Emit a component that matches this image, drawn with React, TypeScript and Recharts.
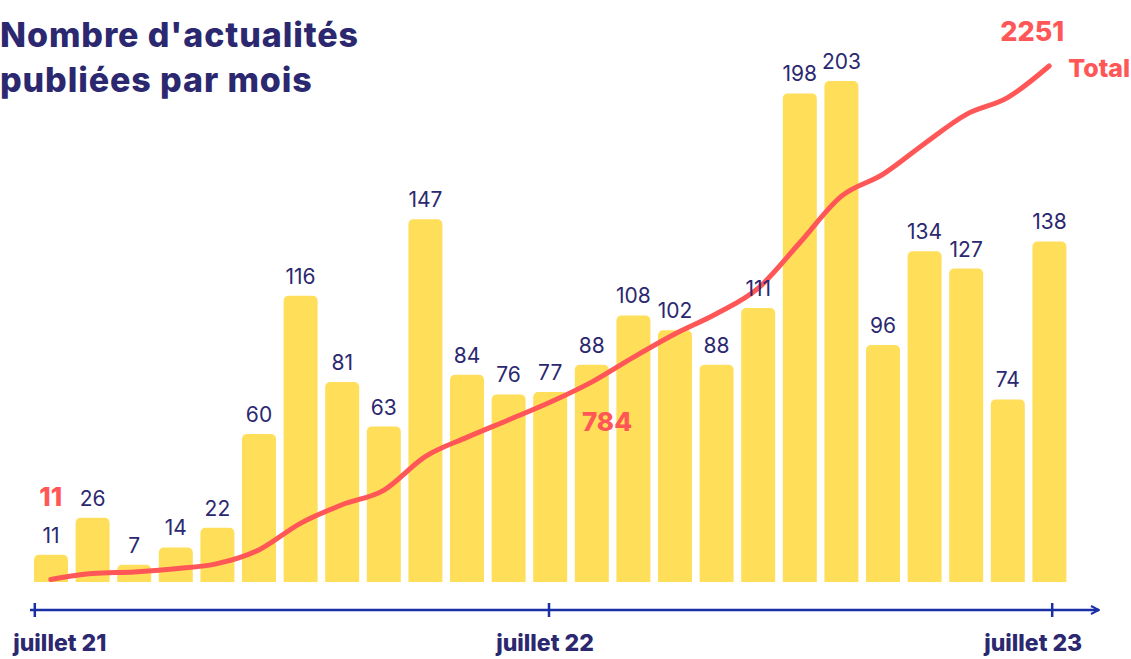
import React from "react";
import { ComposedChart, Bar, Line, XAxis, YAxis, LabelList } from "recharts";

const months = [
  "2021-07", "2021-08", "2021-09", "2021-10", "2021-11", "2021-12",
  "2022-01", "2022-02", "2022-03", "2022-04", "2022-05", "2022-06",
  "2022-07", "2022-08", "2022-09", "2022-10", "2022-11", "2022-12",
  "2023-01", "2023-02", "2023-03", "2023-04", "2023-05", "2023-06", "2023-07",
];
const monthly = [11, 26, 7, 14, 22, 60, 116, 81, 63, 147, 84, 76, 77, 88, 108, 102, 88, 111, 198, 203, 96, 134, 127, 74, 138];
const tickMonths = ["2021-07", "2022-07", "2023-07"];
const tickLabels = ["juillet 21", "juillet 22", "juillet 23"];
const highlightedTotals = ["2021-07", "2022-07", "2023-07"];

const cumulative: number[] = [];
monthly.reduce((acc, v) => {
  const s = acc + v;
  cumulative.push(s);
  return s;
}, 0);

const data = months.map((m, i) => ({ month: m, count: monthly[i], total: cumulative[i] }));

const NAVY = "#2b2870";
const RED = "#ff5757";
const YELLOW = "#ffde59";
const BLUE = "#1a2fa6";
const FONT = "Inter, 'Open Sans', sans-serif";

const tickOffsets = [-16, -1, 3];
const labelOffsets = [9, -5, -16];

const AxisTick = (props: any) => {
  const { x, y, payload } = props;
  const idx = tickMonths.indexOf(payload.value);
  if (idx < 0) return null;
  const tx = x + tickOffsets[idx];
  const lx = x + labelOffsets[idx];
  return (
    <g>
      <line x1={tx} x2={tx} y1={y - 7} y2={y + 7} stroke={BLUE} strokeWidth={2.5} />
      <text x={lx} y={y + 41} textAnchor="middle" fill={NAVY} fontFamily={FONT} fontWeight={800} fontSize={23}>
        {tickLabels[idx]}
      </text>
    </g>
  );
};

const TotalLabel = (props: any) => {
  const { x, y, value, index } = props;
  const m = months[index];
  if (!highlightedTotals.includes(m)) return null;
  const style = { fill: RED, fontFamily: FONT, fontWeight: 800 } as any;
  if (index === 0) {
    return (
      <text x={x} y={y - 73} textAnchor="middle" fontSize={26} {...style}>
        {value}
      </text>
    );
  }
  if (index === months.length - 1) {
    return (
      <g>
        <text x={x - 17} y={y - 25} textAnchor="middle" fontSize={27} {...style}>
          {value}
        </text>
        <text x={x + 19} y={y + 11} textAnchor="start" fontSize={25} {...style}>
          Total
        </text>
      </g>
    );
  }
  return (
    <text x={x + 57} y={y + 29} textAnchor="middle" fontSize={26} {...style}>
      {value}
    </text>
  );
};

export default function App() {
  return (
    <div style={{ position: "absolute", left: 0, top: 0, width: 1131, height: 659, background: "#fff" }}>
      <svg width={0} height={0} style={{ position: "absolute" }}>
        <defs>
          <marker id="axisArrow" viewBox="0 0 10 10" refX="9" refY="5" markerWidth="10" markerHeight="10" markerUnits="userSpaceOnUse" orient="auto">
            <path d="M1,1 L9,5 L1,9" fill="none" stroke={BLUE} strokeWidth={2} />
          </marker>
        </defs>
      </svg>
      <div
        style={{
          position: "absolute",
          left: 0,
          top: 12,
          fontFamily: FONT,
          fontWeight: 800,
          fontSize: 34,
          lineHeight: "45px",
          color: NAVY,
          letterSpacing: 0.9,
          whiteSpace: "nowrap",
        }}
      >
        Nombre d'actualités
        <br />
        publiées par mois
      </div>
      <ComposedChart
        width={1131}
        height={659}
        data={data}
        margin={{ top: 66, right: 32, bottom: 0, left: 30 }}
        barSize={34}
      >
        <XAxis
          dataKey="month"
          height={49}
          padding={{ left: 0, right: 29 }}
          interval={0}
          tickLine={false}
          tickSize={0}
          tickMargin={0}
          axisLine={{ stroke: BLUE, strokeWidth: 2.5, markerEnd: "url(#axisArrow)" } as any}
          tick={<AxisTick />}
        />
        <YAxis yAxisId="bars" hide domain={[-11.35, 209.1]} />
        <YAxis yAxisId="total" orientation="right" hide domain={[-122.1, 2251]} />
        <Bar yAxisId="bars" dataKey="count" fill={YELLOW} radius={[5, 5, 0, 0]} isAnimationActive={false}>
          <LabelList dataKey="count" position="top" offset={12} fill={NAVY} fontSize={21} fontFamily={FONT} fontWeight={400} />
        </Bar>
        <Line
          yAxisId="total"
          dataKey="total"
          type="monotone"
          stroke={RED}
          strokeWidth={5}
          strokeLinecap="round"
          dot={false}
          activeDot={false}
          isAnimationActive={false}
        >
          <LabelList dataKey="total" content={<TotalLabel />} />
        </Line>
      </ComposedChart>
    </div>
  );
}
